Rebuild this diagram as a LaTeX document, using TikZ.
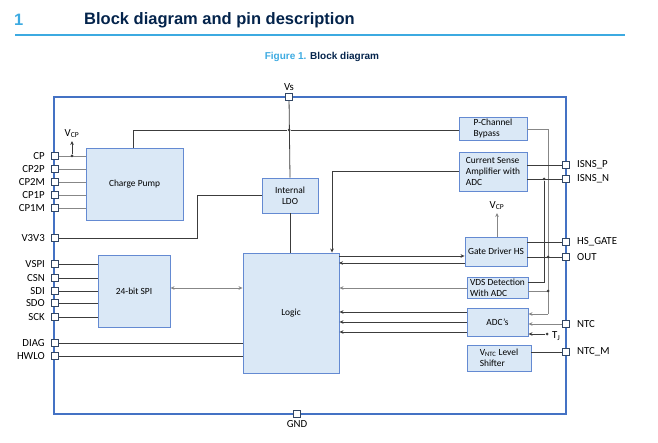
\documentclass[tikz,border=0pt]{standalone}
\usepackage{fontspec}
\setmainfont{Carlito}
\newfontfamily\arialfont{Liberation Sans}
\usetikzlibrary{arrows.meta}
\definecolor{boxfill}{RGB}{218,232,246}
\definecolor{boxdraw}{RGB}{100,138,210}
\definecolor{frameblue}{RGB}{68,114,196}
\definecolor{wire}{RGB}{60,60,60}
\definecolor{wirelight}{RGB}{135,135,135}
\definecolor{pinedge}{RGB}{50,70,100}
\definecolor{stnavy}{RGB}{3,35,75}
\definecolor{stblue}{RGB}{60,170,225}
\tikzset{
  blk/.style={draw=boxdraw, fill=boxfill, line width=0.9pt, inner sep=0pt, align=center,
    font=\fontsize{9.4}{11}\selectfont},
  pinbox/.style={draw=pinedge, fill=white, line width=0.7pt, minimum size=7.5pt, inner sep=0pt},
  lbl/.style={inner sep=0pt, font=\fontsize{10.8}{12}\selectfont},
  wr/.style={draw=wire, line width=0.8pt},
  wl/.style={draw=wirelight, line width=0.8pt},
  arr/.style={-{Stealth[length=4pt,width=3.6pt]}},
  dotn/.style={circle, fill=wire, inner sep=0pt, minimum size=3pt}
}
\begin{document}
\begin{tikzpicture}[x=1pt,y=-1pt]
\useasboundingbox (0,0) rectangle (658,443);
% header
\node[anchor=west, inner sep=0pt, text=stblue, font=\arialfont\bfseries\fontsize{16.5}{18}\selectfont] (hnum) at (14,20) {1};
\node[anchor=west, inner sep=0pt, text=stnavy, font=\arialfont\bfseries\fontsize{16.5}{18}\selectfont] (htitle) at (84,20) {Block diagram and pin description};
\coordinate (hl1) at (15,35);
\coordinate (hl2) at (625,35);
\draw[stblue, line width=1.1pt] (hl1) -- (hl2);
\node[inner sep=0pt, font=\arialfont\bfseries\fontsize{10}{12}\selectfont] (cap) at (322,57) {\textcolor{stblue}{Figure 1.} \textcolor{stnavy}{Block diagram}};

% blocks
\node[blk, minimum width=97pt, minimum height=72pt] (cp) at (134.5,184) {Charge Pump};
\node[blk, minimum width=56pt, minimum height=35pt] (ldo) at (290,195.5) {Internal\\LDO};
\node[blk, minimum width=72pt, minimum height=72pt] (spi) at (134,291) {24-bit SPI};
\node[blk, minimum width=96pt, minimum height=120pt] (logic) at (291,313) {Logic};
\node[blk, minimum width=68pt, minimum height=23pt, align=left] (byp) at (493,128.5) {P-Channel\\Bypass};
\node[blk, minimum width=68pt, minimum height=39pt, align=left] (csa) at (493,171.5) {Current Sense\\Amplifier with\\ADC};
\node[blk, minimum width=62pt, minimum height=29pt] (gd) at (496,251.5) {Gate Driver HS};
\node[blk, minimum width=61pt, minimum height=21pt, align=left] (vds) at (497.5,287.5) {VDS Detection\\With ADC};
\node[blk, minimum width=61pt, minimum height=28pt] (adc) at (497.5,322) {ADC’s};
\node[blk, minimum width=64pt, minimum height=26pt, align=left] (lvl) at (499,358) {V\textsubscript{NTC} Level\\Shifter};

% frame
\draw[frameblue, line width=1.8pt] (54,97) rectangle (566,414);

% pins left
\foreach \n/\y/\t in {pcp/156/CP, pcpp/169/CP2P, pcpm/182/CP2M, pcpa/195/CP1P, pcpb/208/CP1M, pv33/238/V3V3,
  pvspi/264/VSPI, pcsn/278/CSN, psdi/291/SDI, psdo/303/SDO, psck/317/SCK, pdiag/343/DIAG, phwlo/356/HWLO}{
  \node[pinbox] (\n) at (55,\y) {};
  \node[lbl, anchor=east] (\n l) at (45,\y) {\t};
}
% pins right
\foreach \n/\y/\t in {pisp/165/ISNS\_P, pisn/179/ISNS\_N, phsg/242/HS\_GATE, pout/257/OUT, pntc/324/NTC, pntcm/352/NTC\_M}{
  \node[pinbox] (\n) at (566,\y) {};
  \node[lbl, anchor=west] (\n l) at (577,\y) {\t};
}
% top/bottom pins
\node[pinbox] (pvs) at (289,97) {};
\node[lbl, anchor=south] (pvsl) at (289,91) {Vs};
\node[pinbox] (pgnd) at (297,414) {};
\node[lbl, anchor=north] (pgndl) at (297,420) {GND};

% supply wiring
\node[dotn] (dvs) at (289,130) {};
\draw[wr] (pvs) -- (ldo.north);
\draw[wr] (ldo.south) -- (ldo.south |- logic.north);
\coordinate (cpt) at (133,130);
\draw[wr] (cp.north -| cpt) -- (cpt) -- (dvs) -- (byp.west |- dvs);
\coordinate (bpr) at (548,129);
\coordinate (bpd) at (548,314);
\draw[wl] (byp.east |- bpr) -- (bpr) -- (bpd);
\draw[wl, arr] (bpd) -- (adc.east |- bpd);

% LDO to V3V3
\coordinate (l1) at (197,195);
\coordinate (l2) at (197,238);
\draw[wr] (ldo.west |- l1) -- (l1) -- (l2) -- (pv33);

% CP pins
\foreach \n in {pcp, pcpp, pcpm, pcpa, pcpb}{
  \draw[wl] (\n) -- (\n -| cp.west);
}
\node[dotn] (dvcp) at (72,156) {};
\coordinate (vcpa) at (72,141);
\draw[wr, arr] (dvcp) -- (vcpa);
\node[lbl, anchor=south, font=\fontsize{10.8}{12}\selectfont] (vcpl) at (72,138) {V\textsubscript{CP}};

% SPI
\foreach \n in {pvspi, pcsn, psdi, psdo, psck}{
  \draw[wr] (\n) -- (\n -| spi.west);
}
\coordinate (sp) at (170,288);
\draw[wl, {Stealth[length=4pt,width=3.6pt]}-{Stealth[length=4pt,width=3.6pt]}] (spi.east |- sp) -- (logic.west |- sp);
\draw[wr] (pdiag) -- (pdiag -| logic.west);
\draw[wr] (phwlo) -- (phwlo -| logic.west);

% current sense
\coordinate (c1) at (332,171);
\draw[wr, arr] (csa.west |- c1) -- (c1) -- (c1 |- logic.north);
\draw[wr] (pisp -| csa.east) -- (pisp);
\draw[wr] (pisn -| csa.east) -- (pisn);
\node[dotn] (disn) at (544,179) {};
\coordinate (v1) at (544,282);
\draw[wr] (disn) -- (v1) -- (vds.east |- v1);

% gate driver
\coordinate (g1) at (339,256);
\coordinate (g2) at (339,263);
\draw[wr, arr] (g1) -- (gd.west |- g1);
\draw[wr, arr] (gd.west |- g2) -- (g2);
\coordinate (gv) at (497,213);
\draw[wl, arr] (gd.north -| gv) -- (gv);
\node[lbl, anchor=south] (gvl) at (497,210) {V\textsubscript{CP}};
\draw[wr] (phsg -| gd.east) -- (phsg);
\draw[wr] (pout -| gd.east) -- (pout);
\node[dotn] (dout) at (548,257) {};

% VDS
\coordinate (v2) at (548,291);
\draw[wl] (vds.east |- v2) -- (v2);
\node[dotn] (dvds) at (v2) {};
\coordinate (v3) at (467,288);
\draw[wl, arr] (v3) -- (logic.east |- v3);

% ADC
\foreach \y in {312,322,332}{
  \draw[wr, arr] (adc.west |- {(0,\y)}) -- (logic.east |- {(0,\y)});
}
\draw[wl, arr] (pntc) -- (pntc -| adc.east);
\node[dotn] (dtj) at (547,334) {};
\draw[wr, arr] (dtj) -- (adc.east |- dtj);
\node[lbl, anchor=west] (tjl) at (552,336) {T\textsubscript{J}};

% level shifter
\draw[wr] (pntcm -| lvl.east) -- (pntcm);
\end{tikzpicture}
\end{document}
